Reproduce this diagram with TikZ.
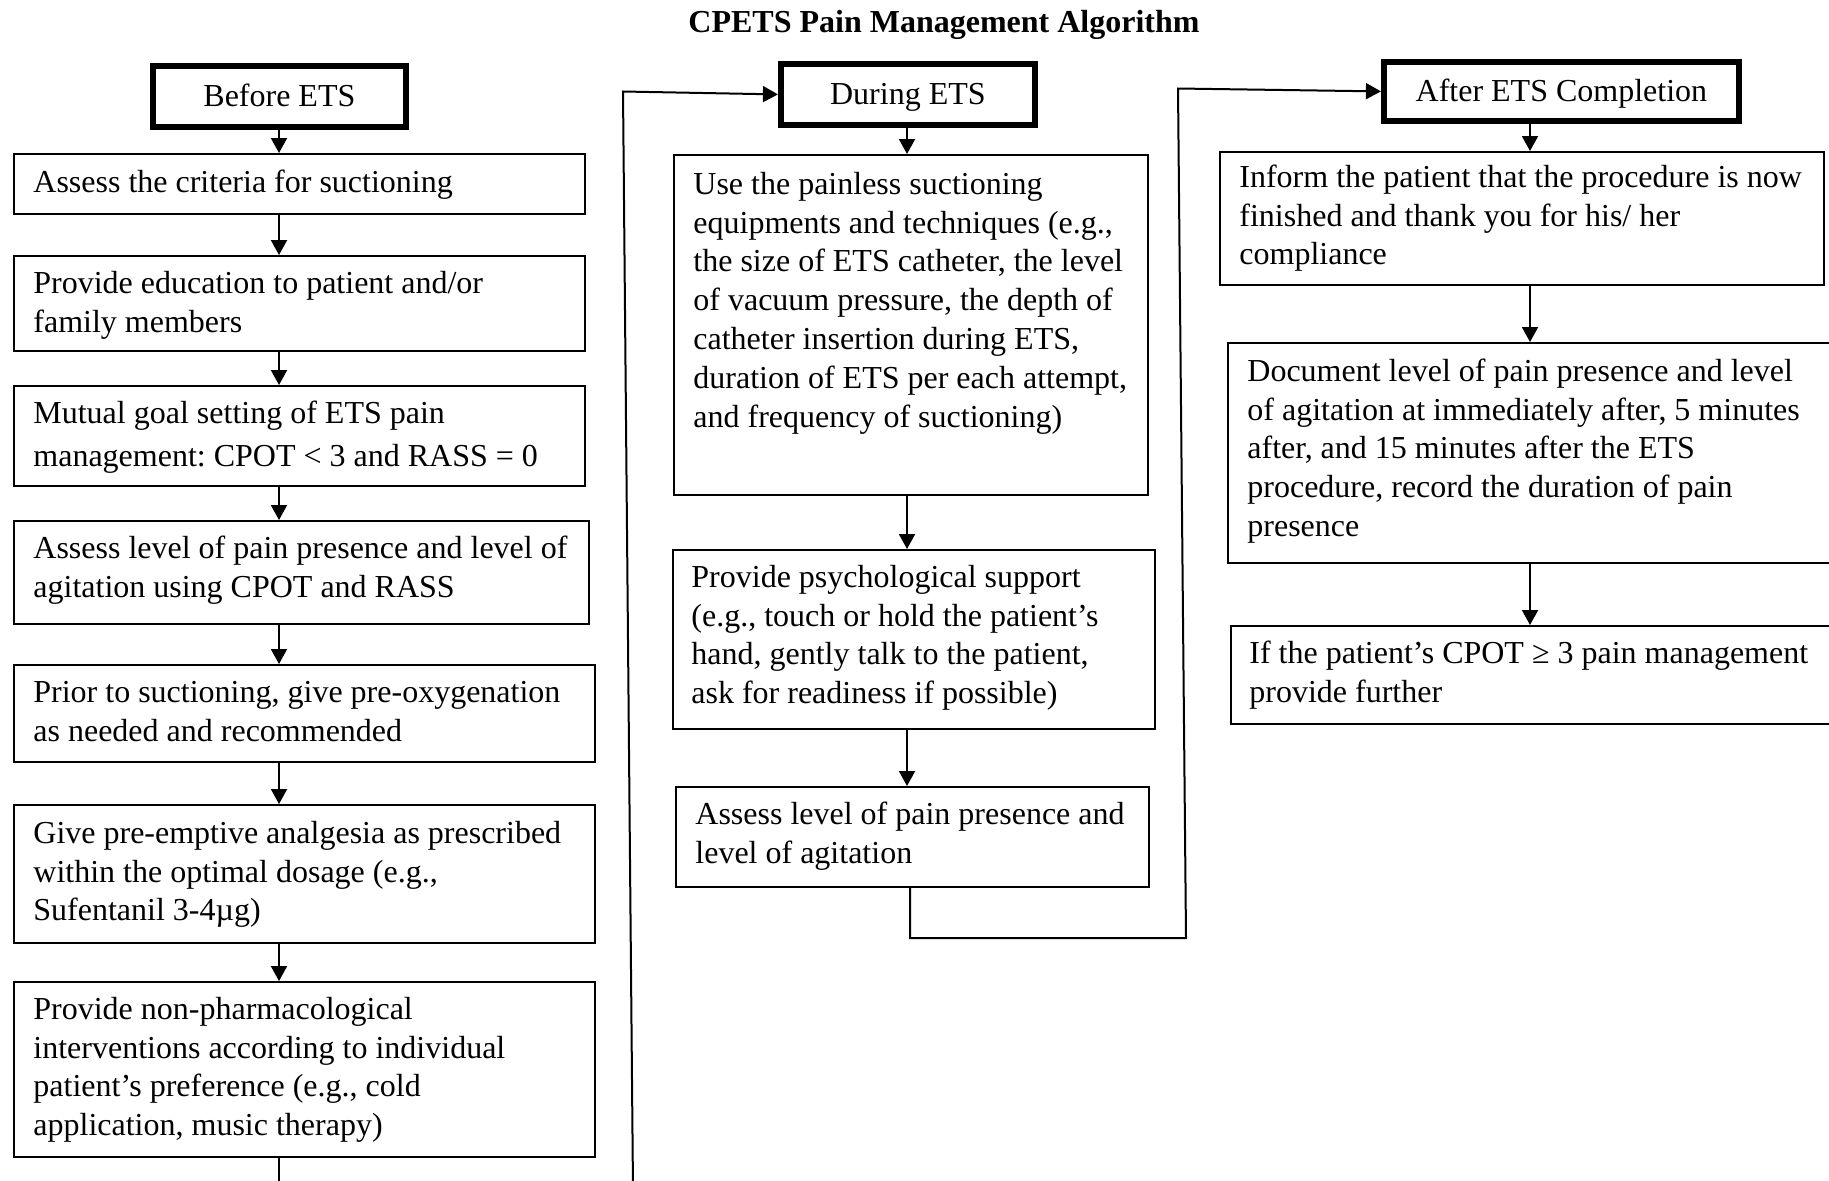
\documentclass[tikz,border=0pt]{standalone}
\usepackage{fontspec}
\setmainfont{Liberation Serif}
\usetikzlibrary{arrows.meta}
\begin{document}
\begin{tikzpicture}[x=0.5pt,y=-0.5pt,
  every node/.style={font=\fontsize{16pt}{19.4pt}\selectfont\frenchspacing},
  box/.style={draw, line width=1pt, anchor=north west, inner sep=0pt},
  hbox/.style={draw, line width=2.9pt, anchor=north west, inner sep=0pt, text height=13pt, text depth=3pt},
  txt/.style={anchor=north west, inner sep=0pt, align=left},
  arr/.style={line width=1pt, -{Triangle[length=7.5pt,width=8pt]}},
  ln/.style={line width=1pt}]
\useasboundingbox (0,0) rectangle (1829,1180);

% title
\node[anchor=base, font=\fontsize{16pt}{19.4pt}\selectfont\bfseries] (title) at (944,32) {CPETS Pain Management Algorithm};

% headers
\node[hbox, minimum width=126.6pt, minimum height=30.6pt] (before) at (149.9,62.9) {Before ETS};
\node[hbox, minimum width=127.1pt, minimum height=30.6pt] (during) at (777.9,60.9) {During ETS};
\node[hbox, minimum width=177.6pt, minimum height=29.6pt] (after) at (1380.9,58.9) {After ETS Completion};

% column 1 boxes
\node[box, minimum width=285.5pt, minimum height=30pt] (crit) at (13,153) {};
\node[box, minimum width=285.5pt, minimum height=47.5pt] (edu) at (13,255) {};
\node[box, minimum width=285.5pt, minimum height=50pt] (goal) at (13,385) {};
\node[box, minimum width=287.5pt, minimum height=51.5pt] (assess) at (13,520) {};
\node[box, minimum width=290.5pt, minimum height=48.5pt] (prior) at (13,664) {};
\node[box, minimum width=290.5pt, minimum height=69pt] (give) at (13,804) {};
\node[box, minimum width=290.5pt, minimum height=87.5pt] (nonph) at (13,981) {};

% column 2 boxes
\node[box, minimum width=237pt, minimum height=170pt] (pain) at (673,154) {};
\node[box, minimum width=241.25pt, minimum height=89.5pt] (psych) at (671.5,549) {};
\node[box, minimum width=236.7pt, minimum height=50pt] (assesstwo) at (674.6,786) {};

% column 3 boxes
\node[box, minimum width=302pt, minimum height=66.5pt] (inform) at (1219,151) {};
\node[box, minimum width=311.5pt, minimum height=110pt] (doc) at (1227,342) {};
\node[box, minimum width=310pt, minimum height=49pt] (iff) at (1230,625) {};

% texts column 1
\node[txt] (t-crit) at (33,164.8) {\strut Assess the criteria for suctioning};
\node[txt] (t-edu) at (33,265.8) {\strut Provide education to patient and/or\\family members};
\node[txt] (t-goal) at (33,395.8) {\strut Mutual goal setting of ETS pain\\[2.1pt]management: CPOT < 3 and RASS = 0};
\node[txt] (t-assess) at (33,530.8) {\strut Assess level of pain presence and level of\\agitation using CPOT and RASS};
\node[txt] (t-prior) at (33,674.8) {\strut Prior to suctioning, give pre-oxygenation\\as needed and recommended};
\node[txt] (t-give) at (33,815.8) {\strut Give pre-emptive analgesia as prescribed\\within the optimal dosage (e.g.,\\Sufentanil 3-4µg)};
\node[txt] (t-nonph) at (33,991.8) {\strut Provide non-pharmacological\\interventions according to individual\\patient’s preference (e.g., cold\\application, music therapy)};

% texts column 2
\node[txt] (t-pain) at (693,166.8) {\strut Use the painless suctioning\\equipments and techniques (e.g.,\\the size of ETS catheter, the level\\of vacuum pressure, the depth of\\catheter insertion during ETS,\\duration of ETS per each attempt,\\and frequency of suctioning)};
\node[txt] (t-psych) at (691,559.8) {\strut Provide psychological support\\(e.g., touch or hold the patient’s\\hand, gently talk to the patient,\\ask for readiness if possible)};
\node[txt] (t-assesstwo) at (695,796.8) {\strut Assess level of pain presence and\\level of agitation};

% texts column 3
\node[txt] (t-inform) at (1239,159.8) {\strut Inform the patient that the procedure is now\\finished and thank you for his/ her\\compliance};
\node[txt] (t-doc) at (1247,353.8) {\strut Document level of pain presence and level\\of agitation at immediately after, 5 minutes\\after, and 15 minutes after the ETS\\procedure, record the duration of pain\\presence};
\node[txt] (t-iff) at (1249,635.8) {\strut If the patient’s CPOT ≥ 3 pain management\\provide further};

% connector columns
\coordinate (c1) at (279,0);
\coordinate (c2) at (907,0);
\coordinate (c2b) at (910,0);
\coordinate (c3) at (1530,0);
\coordinate (b1) at (279,1190);
\coordinate (lb) at (633,1190);
\coordinate (lt) at (623,91.5);
\coordinate (rb) at (1186,938);
\coordinate (rt) at (1178,88.5);

% column 1 arrows
\draw[arr] (before.south -| c1) -- (crit.north -| c1);
\draw[arr] (crit.south -| c1) -- (edu.north -| c1);
\draw[arr] (edu.south -| c1) -- (goal.north -| c1);
\draw[arr] (goal.south -| c1) -- (assess.north -| c1);
\draw[arr] (assess.south -| c1) -- (prior.north -| c1);
\draw[arr] (prior.south -| c1) -- (give.north -| c1);
\draw[arr] (give.south -| c1) -- (nonph.north -| c1);
\draw[ln] (nonph.south -| c1) -- (b1);

% loop to During
\draw[arr] (lb) -- (lt) -- (during.west);

% column 2 arrows
\draw[arr] (during.south -| c2) -- (pain.north -| c2);
\draw[arr] (pain.south -| c2) -- (psych.north -| c2);
\draw[arr] (psych.south -| c2) -- (assesstwo.north -| c2);

% loop to After
\draw[arr] (assesstwo.south -| c2b) -- (c2b |- rb) -- (rb) -- (rt) -- (after.west);

% column 3 arrows
\draw[arr] (after.south -| c3) -- (inform.north -| c3);
\draw[arr] (inform.south -| c3) -- (doc.north -| c3);
\draw[arr] (doc.south -| c3) -- (iff.north -| c3);
\end{tikzpicture}
\end{document}
